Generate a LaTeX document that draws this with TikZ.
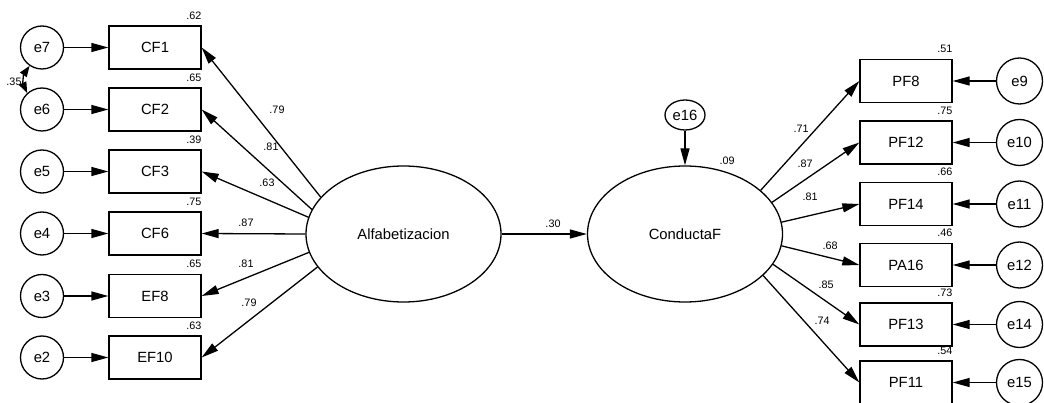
\documentclass[tikz,border=0pt]{standalone}
\usepackage{fontspec}
\setmainfont{Liberation Sans}
\usetikzlibrary{arrows.meta,shapes.geometric}
\begin{document}
\begin{tikzpicture}[x=1pt,y=-1pt,
  txt/.style={font=\fontsize{14.8}{16}\selectfont},
  box/.style={draw,line width=1.3pt,minimum width=92pt,minimum height=43pt,inner sep=0pt,txt},
  errl/.style={draw,circle,line width=1.3pt,minimum size=43pt,inner sep=0pt,txt},
  errr/.style={draw,circle,line width=1.3pt,minimum size=46pt,inner sep=0pt,txt},
  lat/.style={draw,ellipse,line width=1.3pt,minimum width=195pt,minimum height=136pt,inner sep=0pt,txt},
  reg/.style={line width=1.3pt,-{Triangle[length=17pt,width=9pt]}},
  corr/.style={line width=1.3pt,{Triangle[length=11pt,width=8pt]}-{Triangle[length=11pt,width=8pt]}},
  coef/.style={font=\fontsize{10.8}{12}\selectfont,inner sep=0pt},
  rsq/.style={coef,anchor=south east},
]
\useasboundingbox (0,0) rectangle (1044,403);

% latent variables
\node[lat] (alf) at (403.5,234) {Alfabetizacion};
\node[lat] (cond) at (685,234) {ConductaF};
\node[draw,ellipse,line width=1.3pt,minimum width=40pt,minimum height=30pt,inner sep=0pt,txt] (e16) at (685,115) {e16};

% left indicators
\node[box] (cf1) at (155,47.5) {CF1};
\node[box] (cf2) at (155,109.5) {CF2};
\node[box] (cf3) at (155,171.5) {CF3};
\node[box] (cf6) at (155,233.5) {CF6};
\node[box] (ef8) at (155,296) {EF8};
\node[box] (ef10) at (155,357.5) {EF10};

\node[errl] (e7) at (42,47.5) {e7};
\node[errl] (e6) at (42,109.5) {e6};
\node[errl] (e5) at (42,171.5) {e5};
\node[errl] (e4) at (42,233.5) {e4};
\node[errl] (e3) at (42,296) {e3};
\node[errl] (e2) at (42,357.5) {e2};

% right indicators
\node[box] (pf8) at (906,81) {PF8};
\node[box] (pf12) at (906,142.5) {PF12};
\node[box] (pf14) at (906,204) {PF14};
\node[box] (pa16) at (906,265) {PA16};
\node[box] (pf13) at (906,324.5) {PF13};
\node[box] (pf11) at (906,382.5) {PF11};

\node[errr] (e9) at (1019.5,81) {e9};
\node[errr] (e10) at (1019.5,142.5) {e10};
\node[errr] (e11) at (1019.5,204) {e11};
\node[errr] (e12) at (1019.5,265) {e12};
\node[errr] (e14) at (1019.5,324.5) {e14};
\node[errr] (e15) at (1019.5,382.5) {e15};

% error arrows
\foreach \e/\b in {e7/cf1,e6/cf2,e5/cf3,e4/cf6,e3/ef8,e2/ef10,e9/pf8,e10/pf12,e11/pf14,e12/pa16,e14/pf13,e15/pf11}
  \draw[reg] (\e) -- (\b);

% loadings
\draw[reg] (alf.156) -- (cf1.east);
\draw[reg] (alf.165) -- (cf2.east);
\draw[reg] (alf.170) -- (cf3.east);
\draw[reg] (alf.180) -- (cf6.east);
\draw[reg] (alf.191) -- (ef8.east);
\draw[reg] (alf.201) -- (ef10.east);

\draw[reg] (cond.30) -- (pf8.west);
\draw[reg] (cond.20) -- (pf12.west);
\draw[reg] (cond.7) -- (pf14.west);
\draw[reg] (cond.-7) -- (pa16.west);
\draw[reg] (cond.-19) -- (pf13.west);
\draw[reg] (cond.-28) -- (pf11.west);

\draw[reg] (alf) -- (cond);
\draw[reg] (e16) -- (cond);

% loading labels
\node[coef] (l1) at (277,110) {.79};
\node[coef] (l2) at (271,147) {.81};
\node[coef] (l3) at (267,183) {.63};
\node[coef] (l4) at (246,223) {.87};
\node[coef] (l5) at (246,264) {.81};
\node[coef] (l6) at (249,302.5) {.79};

\node[coef] (r1) at (801,129) {.71};
\node[coef] (r2) at (805,164) {.87};
\node[coef] (r3) at (810,197) {.81};
\node[coef] (r4) at (830,245.5) {.68};
\node[coef] (r5) at (826,285) {.85};
\node[coef] (r6) at (822,320.5) {.74};

\node[coef] (b1) at (553,224) {.30};
\node[coef] (r2c) at (727,161) {.09};

% squared multiple correlations
\node[rsq] (s1) at ([yshift=6pt]cf1.north east) {.62};
\node[rsq] (s2) at ([yshift=6pt]cf2.north east) {.65};
\node[rsq] (s3) at ([yshift=6pt]cf3.north east) {.39};
\node[rsq] (s4) at ([yshift=6pt]cf6.north east) {.75};
\node[rsq] (s5) at ([yshift=6pt]ef8.north east) {.65};
\node[rsq] (s6) at ([yshift=6pt]ef10.north east) {.63};

\node[rsq] (t1) at ([yshift=6pt]pf8.north east) {.51};
\node[rsq] (t2) at ([yshift=6pt]pf12.north east) {.75};
\node[rsq] (t3) at ([yshift=6pt]pf14.north east) {.66};
\node[rsq] (t4) at ([yshift=6pt]pa16.north east) {.46};
\node[rsq] (t5) at ([yshift=6pt]pf13.north east) {.73};
\node[rsq] (t6) at ([yshift=6pt]pf11.north east) {.54};

% correlation e7 <-> e6
\node[coef] (c76) at (14,82) {.35};
\draw[corr] (e7.236) to[bend right=30] (e6.132);
\end{tikzpicture}
\end{document}
